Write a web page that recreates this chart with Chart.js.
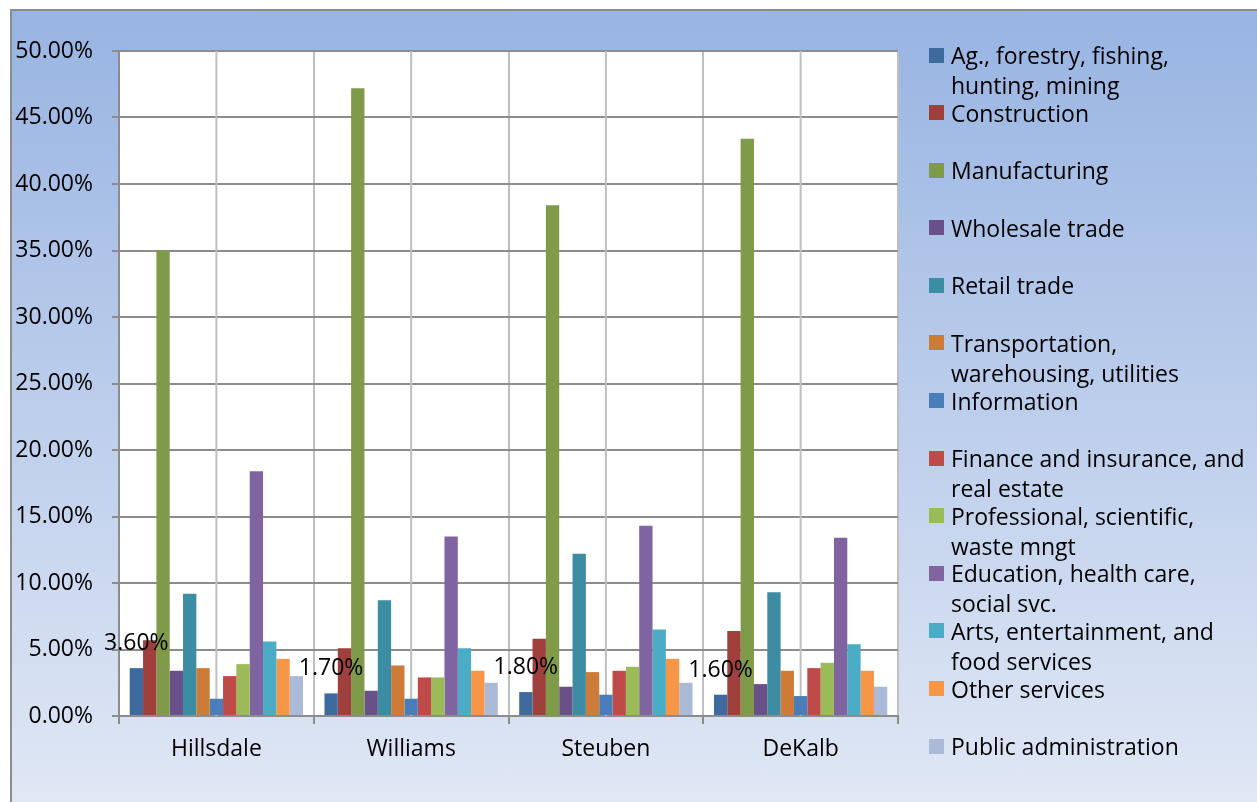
<!DOCTYPE html>
<html>
<head>
<meta charset="utf-8">
<script src="https://cdn.jsdelivr.net/npm/chart.js@4.4.0/dist/chart.umd.min.js"></script>
<style>
  html, body { margin: 0; padding: 0; width: 1257px; height: 802px; overflow: hidden; background: #fff; font-family: "Open Sans", sans-serif; }
  #frame {
    position: absolute; left: 10px; top: 9px; width: 1260px; height: 800px;
    border-left: 2px solid #8c8c8c; border-top: 2px solid #8c8c8c;
    background: linear-gradient(to bottom, #98b4e2 0%, #e1e8f5 100%);
  }
  #chart { position: absolute; left: 0; top: 0; }
  #legend { position: absolute; left: 929px; top: 40px; width: 328px; }
  .item { position: relative; height: 57.6px; padding-left: 22px; line-height: 30px; font-size: 23px; color: #000; box-sizing: border-box; width: 328px; }
  .sw { position: absolute; left: 0; top: 7.5px; width: 15px; height: 15px; }
</style>
</head>
<body>
<div id="frame"></div>
<canvas id="chart" width="1257" height="802"></canvas>
<div id="legend"></div>
<script>
// 郡別
const counties = ['Hillsdale', 'Williams', 'Steuben', 'DeKalb'];

// 產業名稱
const industries = [
  'Ag., forestry, fishing, hunting, mining',
  'Construction',
  'Manufacturing',
  'Wholesale trade',
  'Retail trade',
  'Transportation, warehousing, utilities',
  'Information',
  'Finance and insurance, and real estate',
  'Professional, scientific, waste mngt',
  'Education, health care, social svc.',
  'Arts, entertainment, and food services',
  'Other services',
  'Public administration'
];

// 各產業佔比 (%)，依郡順序
const agForestry    = [3.6, 1.7, 1.8, 1.6];
const construction  = [5.7, 5.1, 5.8, 6.4];
const manufacturing = [35.0, 47.2, 38.4, 43.4];
const wholesale     = [3.4, 1.9, 2.2, 2.4];
const retail        = [9.2, 8.7, 12.2, 9.3];
const transport     = [3.6, 3.8, 3.3, 3.4];
const information   = [1.3, 1.3, 1.6, 1.5];
const finance       = [3.0, 2.9, 3.4, 3.6];
const professional  = [3.9, 2.9, 3.7, 4.0];
const education     = [18.4, 13.5, 14.3, 13.4];
const arts          = [5.6, 5.1, 6.5, 5.4];
const otherServices = [4.3, 3.4, 4.3, 3.4];
const publicAdmin   = [3.0, 2.5, 2.5, 2.2];

const seriesValues = [agForestry, construction, manufacturing, wholesale, retail, transport,
  information, finance, professional, education, arts, otherServices, publicAdmin];

// Y 軸刻度
const yTicks = [0, 5, 10, 15, 20, 25, 30, 35, 40, 45, 50];

const colors = ['#3e6a9e', '#a0403d', '#7f9a48', '#6a5088', '#3c8ca3', '#ce7b37',
  '#4a7ebb', '#be4b48', '#9bbb59', '#8064a2', '#4bacc6', '#f79646', '#aabad7'];

const FONT = '"Open Sans", sans-serif';

// 白色繪圖區 + 類別中線
const plotBg = {
  id: 'plotBg',
  beforeDraw(chart) {
    const { ctx, chartArea: a } = chart;
    ctx.save();
    ctx.fillStyle = '#fff';
    ctx.fillRect(a.left, a.top, a.right - a.left, a.bottom - a.top);
    ctx.restore();
  },
  beforeDatasetsDraw(chart) {
    const { ctx, chartArea: a, scales } = chart;
    ctx.save();
    ctx.strokeStyle = '#bfbfbf';
    ctx.lineWidth = 2;
    counties.forEach((c, i) => {
      const x = scales.x.getPixelForValue(i);
      ctx.beginPath();
      ctx.moveTo(x, a.top);
      ctx.lineTo(x, a.bottom);
      ctx.stroke();
    });
    ctx.restore();
  }
};

// 第一組數列的數值標籤
const firstLabels = {
  id: 'firstLabels',
  afterDatasetsDraw(chart) {
    const { ctx } = chart;
    const meta = chart.getDatasetMeta(0);
    ctx.save();
    ctx.font = '23px ' + FONT;
    ctx.fillStyle = '#000';
    ctx.textAlign = 'center';
    ctx.textBaseline = 'alphabetic';
    meta.data.forEach((bar, i) => {
      ctx.fillText(agForestry[i].toFixed(2) + '%', bar.x, bar.y - 18);
    });
    ctx.restore();
  }
};

new Chart(document.getElementById('chart'), {
  type: 'bar',
  data: {
    labels: counties,
    datasets: industries.map((name, i) => ({
      label: name,
      data: seriesValues[i],
      backgroundColor: colors[i],
      borderWidth: 0,
      categoryPercentage: 0.89,
      barPercentage: 1.0
    }))
  },
  options: {
    responsive: false,
    animation: false,
    layout: { padding: { top: 51, right: 359, left: 0, bottom: 0 } },
    plugins: { legend: { display: false }, tooltip: { enabled: false } },
    scales: {
      x: {
        afterFit: s => { s.height = 86; },
        grid: {
          offset: true,
          color: ctx => ctx.index === 0 ? '#8c8c8c' : '#bfbfbf',
          lineWidth: 2,
          tickLength: 8,
          tickColor: '#8c8c8c'
        },
        border: { color: '#8c8c8c', width: 2 },
        ticks: { color: '#000', font: { family: FONT, size: 23 }, padding: 12 }
      },
      y: {
        min: 0,
        max: 50,
        afterFit: s => { s.width = 119; },
        afterBuildTicks: s => { s.ticks = yTicks.map(v => ({ value: v })); },
        grid: { color: '#8c8c8c', lineWidth: 2, tickLength: 7, tickColor: '#8c8c8c' },
        border: { color: '#8c8c8c', width: 2 },
        ticks: {
          color: '#000',
          font: { family: FONT, size: 23 },
          padding: 19,
          callback: v => v.toFixed(2) + '%'
        }
      }
    }
  },
  plugins: [plotBg, firstLabels]
});

// 圖例
const legend = document.getElementById('legend');
industries.forEach((name, i) => {
  const item = document.createElement('div');
  item.className = 'item';
  item.innerHTML = '<span class="sw" style="background:' + colors[i] + '"></span>' + name;
  legend.appendChild(item);
});
</script>
</body>
</html>
